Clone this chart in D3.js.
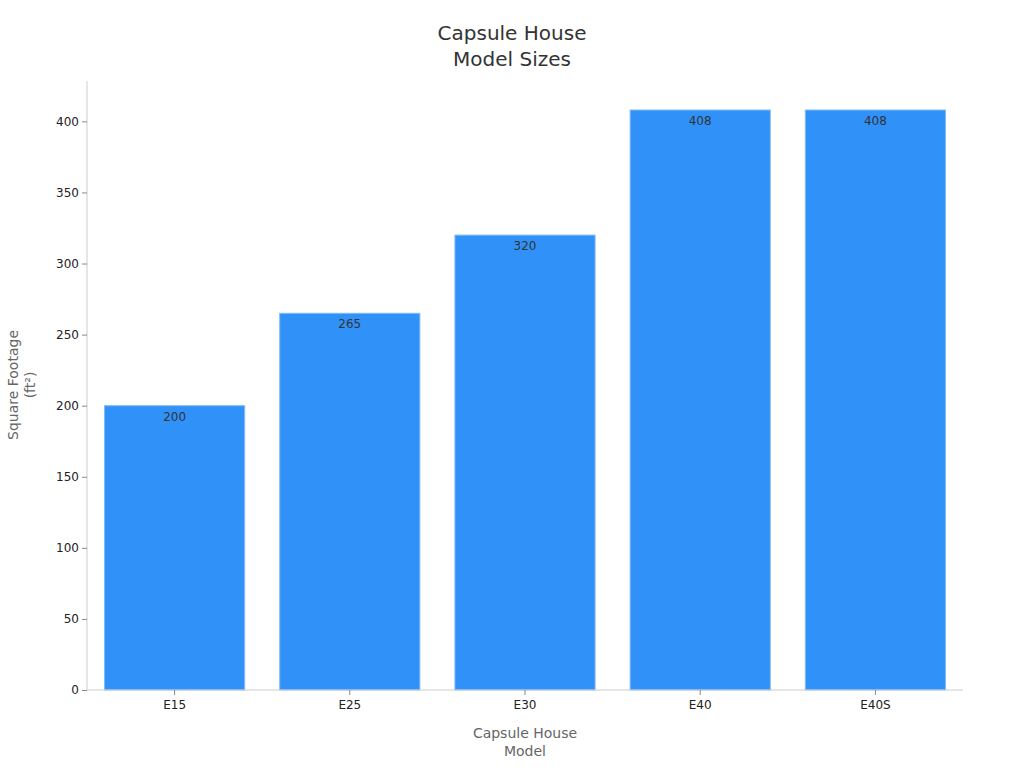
<!DOCTYPE html>
<html><head><meta charset="utf-8">
<script src="https://cdn.jsdelivr.net/npm/d3@7"></script>
<style>body{margin:0;background:#fff;font-family:"DejaVu Sans",sans-serif;}</style>
</head><body>
<svg id="c" width="1024" height="768"></svg>
<script>
const categories = ["E15","E25","E30","E40","E40S"];
const values = [200,265,320,408,408];
const yTicks = [0,50,100,150,200,250,300,350,400];
const titleLines = ["Capsule House","Model Sizes"];
const xLabelLines = ["Capsule House","Model"];
const yLabelLines = ["Square Footage","(ft²)"];

const svg = d3.select("#c");
const m = {left:87, right:963, top:81, bottom:690};
const x = d3.scaleBand().domain(categories).range([m.left,m.right]).paddingInner(0.2).paddingOuter(0.1);
const y = d3.scaleLinear().domain([0, d3.max(values)*1.05]).range([m.bottom,m.top]);

svg.selectAll("rect.bar").data(values).join("rect").attr("class","bar")
  .attr("x",(d,i)=>x(categories[i])).attr("width",x.bandwidth())
  .attr("y",d=>y(d)).attr("height",d=>y(0)-y(d))
  .attr("fill","#3091f8").attr("stroke","#82bbf5").attr("stroke-width",1);

svg.selectAll("text.val").data(values).join("text").attr("class","val")
  .attr("x",(d,i)=>x(categories[i])+x.bandwidth()/2).attr("y",d=>y(d)+15)
  .attr("text-anchor","middle").attr("font-size",12).attr("fill","#333").text(d=>d);

const ya = svg.append("g").attr("transform",`translate(${m.left},0)`)
  .call(d3.axisLeft(y).tickValues(yTicks).tickSize(5).tickPadding(3));
ya.select(".domain").attr("stroke","#ccc").attr("d",`M0,${m.top}V${m.bottom}`);
ya.selectAll(".tick line").attr("stroke","#888");
ya.selectAll(".tick text").attr("font-size",12).attr("fill","#222").attr("font-family","DejaVu Sans");

const xa = svg.append("g").attr("transform",`translate(0,${m.bottom})`)
  .call(d3.axisBottom(x).tickSize(5).tickPadding(5));
xa.select(".domain").attr("stroke","#ccc").attr("d",`M${m.left},0H${m.right}`);
xa.selectAll(".tick line").attr("stroke","#888");
xa.selectAll(".tick text").attr("font-size",12).attr("fill","#222").attr("font-family","DejaVu Sans");

svg.append("text").attr("x",512).attr("text-anchor","middle").attr("font-size",20).attr("fill","#333")
  .selectAll("tspan").data(titleLines).join("tspan").attr("x",512).attr("y",(d,i)=>40+i*26).text(d=>d);

svg.append("text").attr("text-anchor","middle").attr("font-size",14).attr("fill","#666")
  .selectAll("tspan").data(xLabelLines).join("tspan").attr("x",525).attr("y",(d,i)=>738+i*18).text(d=>d);

svg.append("text").attr("text-anchor","middle").attr("font-size",14).attr("fill","#666")
  .attr("transform","translate(18,385) rotate(-90)")
  .selectAll("tspan").data(yLabelLines).join("tspan").attr("x",0).attr("y",(d,i)=>i*17).text(d=>d);
</script>
</body></html>
